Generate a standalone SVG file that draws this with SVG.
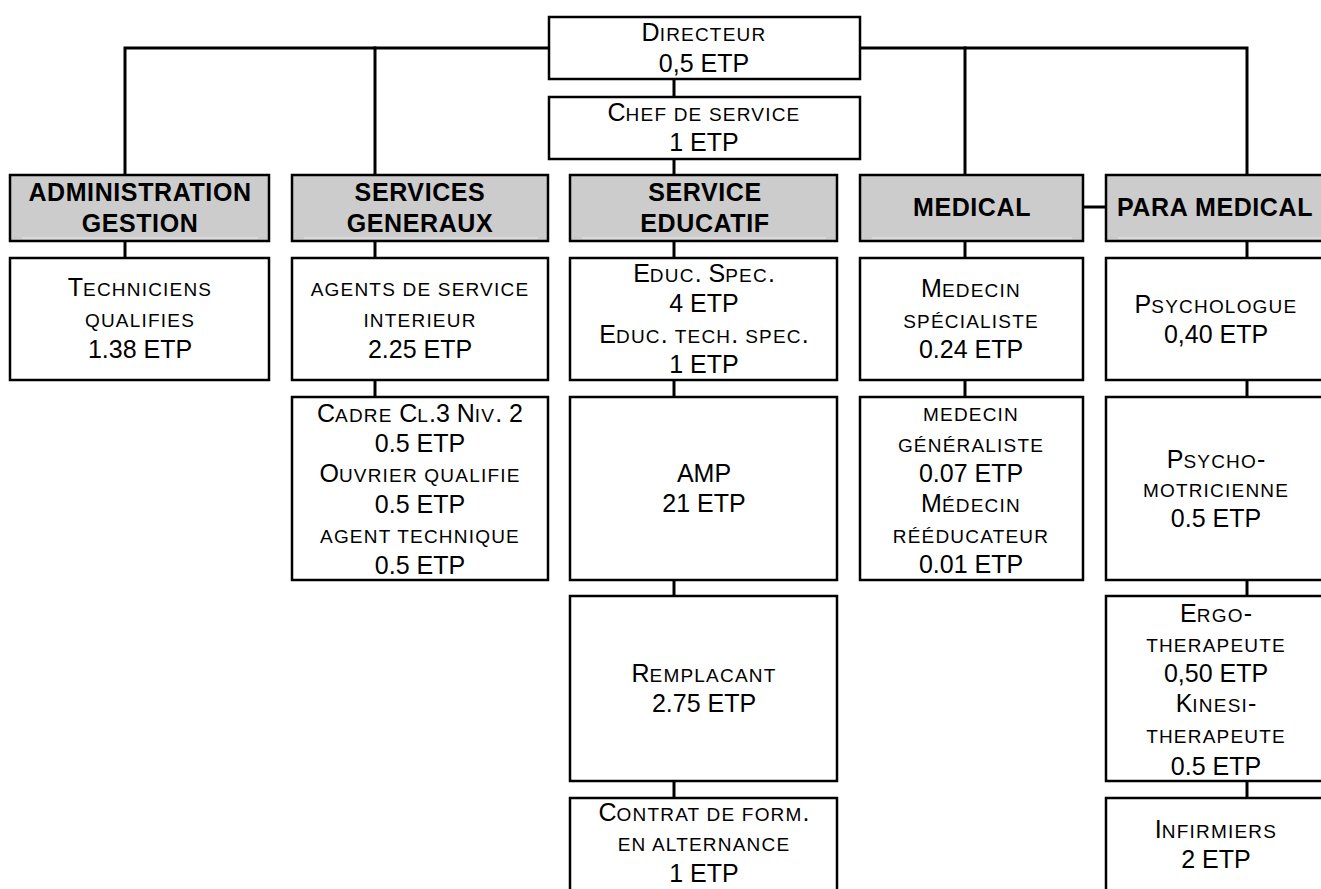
<svg xmlns="http://www.w3.org/2000/svg" width="1321" height="889" viewBox="0 0 1321 889">
<style>
  .box{fill:#ffffff;stroke:#000000;stroke-width:2.5}
  .hdr{fill:#cccccc;stroke:#000000;stroke-width:2.5}
  .hl{stroke:#e8e8e8;stroke-width:1.2}
  .con{fill:none;stroke:#000000;stroke-width:3;stroke-linecap:square}
  text{font-family:"Liberation Sans",Arial,sans-serif;font-size:25px;fill:#000000;text-anchor:middle}
  .b{font-weight:bold;letter-spacing:0.6px}
  .sc{font-size:19px;letter-spacing:1.2px}
</style>
<rect width="1321" height="889" fill="#ffffff"/>
<g id="connectors">
  <path class="con" d="M125,175 V48 H549"/>
  <path class="con" d="M375,48 V175"/>
  <path class="con" d="M860,48 H1247 V175"/>
  <path class="con" d="M965,48 V175"/>
  <path class="con" d="M674,79 V97"/>
  <path class="con" d="M674,159 V175"/>
  <path class="con" d="M1083,207 H1106"/>
  <path class="con" d="M125,241 V258"/>
  <path class="con" d="M375,241 V258"/>
  <path class="con" d="M674,241 V258"/>
  <path class="con" d="M965,241 V258"/>
  <path class="con" d="M1247,241 V258"/>
  <path class="con" d="M375,380 V397"/>
  <path class="con" d="M674,380 V397"/>
  <path class="con" d="M965,380 V397"/>
  <path class="con" d="M1247,380 V397"/>
  <path class="con" d="M674,580 V596"/>
  <path class="con" d="M1247,580 V596"/>
  <path class="con" d="M674,781 V798"/>
  <path class="con" d="M1247,781 V798"/>
</g>
<g id="directeur">
  <rect class="box" x="549" y="17" width="311" height="62"/>
  <text x="704" y="41">D<tspan class="sc">IRECTEUR</tspan></text>
  <text x="704" y="72">0,5 ETP</text>
</g>
<g id="chef">
  <rect class="box" x="549" y="97" width="311" height="62"/>
  <text x="704" y="121">C<tspan class="sc">HEF DE SERVICE</tspan></text>
  <text x="704" y="151">1 ETP</text>
</g>
<g id="h-admin">
  <rect class="hdr" x="10" y="175" width="259" height="66"/>
  <line class="hl" x1="22" y1="238" x2="258" y2="238"/>
  <text class="b" x="140" y="201">ADMINISTRATION</text>
  <text class="b" x="140" y="232">GESTION</text>
</g>
<g id="h-generaux">
  <rect class="hdr" x="292" y="175" width="256" height="66"/>
  <line class="hl" x1="304" y1="238" x2="538" y2="238"/>
  <text class="b" x="420" y="201">SERVICES</text>
  <text class="b" x="420" y="232">GENERAUX</text>
</g>
<g id="h-educatif">
  <rect class="hdr" x="570" y="175" width="267" height="66"/>
  <line class="hl" x1="582" y1="238" x2="826" y2="238"/>
  <text class="b" x="705" y="201">SERVICE</text>
  <text class="b" x="705" y="232">EDUCATIF</text>
</g>
<g id="h-medical">
  <rect class="hdr" x="860" y="175" width="223" height="66"/>
  <line class="hl" x1="872" y1="238" x2="1072" y2="238"/>
  <text class="b" x="972" y="216">MEDICAL</text>
</g>
<g id="h-paramedical">
  <rect class="hdr" x="1106" y="175" width="300" height="66"/>
  <line class="hl" x1="1118" y1="238" x2="1321" y2="238"/>
  <text class="b" x="1215" y="216">PARA MEDICAL</text>
</g>
<g id="techniciens">
  <rect class="box" x="10" y="258" width="259" height="122"/>
  <text x="140" y="296">T<tspan class="sc">ECHNICIENS</tspan></text>
  <text x="140" y="327"><tspan class="sc">QUALIFIES</tspan></text>
  <text x="140" y="358">1.38 ETP</text>
</g>
<g id="agents-service">
  <rect class="box" x="292" y="258" width="256" height="122"/>
  <text x="420" y="296"><tspan class="sc">AGENTS DE SERVICE</tspan></text>
  <text x="420" y="327"><tspan class="sc">INTERIEUR</tspan></text>
  <text x="420" y="358">2.25 ETP</text>
</g>
<g id="cadre">
  <rect class="box" x="292" y="397" width="256" height="183"/>
  <text x="420" y="422">C<tspan class="sc">ADRE </tspan>C<tspan class="sc">L</tspan>.3 N<tspan class="sc">IV</tspan>. 2</text>
  <text x="420" y="452">0.5 ETP</text>
  <text x="420" y="482">O<tspan class="sc">UVRIER QUALIFIE</tspan></text>
  <text x="420" y="513">0.5 ETP</text>
  <text x="420" y="543"><tspan class="sc">AGENT TECHNIQUE</tspan></text>
  <text x="420" y="574">0.5 ETP</text>
</g>
<g id="educ">
  <rect class="box" x="570" y="258" width="267" height="122"/>
  <text x="704" y="282">E<tspan class="sc">DUC</tspan>. S<tspan class="sc">PEC</tspan>.</text>
  <text x="704" y="312">4 ETP</text>
  <text x="704" y="343">E<tspan class="sc">DUC</tspan>. <tspan class="sc">TECH</tspan>. <tspan class="sc">SPEC</tspan>.</text>
  <text x="704" y="373">1 ETP</text>
</g>
<g id="amp">
  <rect class="box" x="570" y="397" width="267" height="183"/>
  <text x="704" y="482">AMP</text>
  <text x="704" y="512">21 ETP</text>
</g>
<g id="remplacant">
  <rect class="box" x="570" y="596" width="267" height="185"/>
  <text x="704" y="682">R<tspan class="sc">EMPLACANT</tspan></text>
  <text x="704" y="712">2.75 ETP</text>
</g>
<g id="contrat">
  <rect class="box" x="570" y="798" width="267" height="200"/>
  <text x="704" y="821">C<tspan class="sc">ONTRAT DE FORM</tspan>.</text>
  <text x="704" y="851"><tspan class="sc">EN ALTERNANCE</tspan></text>
  <text x="704" y="882">1 ETP</text>
</g>
<g id="medecin-specialiste">
  <rect class="box" x="860" y="258" width="223" height="122"/>
  <text x="971" y="297">M<tspan class="sc">EDECIN</tspan></text>
  <text x="971" y="328"><tspan class="sc">SPÉCIALISTE</tspan></text>
  <text x="971" y="358">0.24 ETP</text>
</g>
<g id="medecin-generaliste">
  <rect class="box" x="860" y="397" width="223" height="183"/>
  <text x="971" y="421"><tspan class="sc">MEDECIN</tspan></text>
  <text x="971" y="452"><tspan class="sc">GÉNÉRALISTE</tspan></text>
  <text x="971" y="482">0.07 ETP</text>
  <text x="971" y="512">M<tspan class="sc">ÉDECIN</tspan></text>
  <text x="971" y="543"><tspan class="sc">RÉÉDUCATEUR</tspan></text>
  <text x="971" y="573">0.01 ETP</text>
</g>
<g id="psychologue">
  <rect class="box" x="1106" y="258" width="300" height="122"/>
  <text x="1216" y="313">P<tspan class="sc">SYCHOLOGUE</tspan></text>
  <text x="1216" y="343">0,40 ETP</text>
</g>
<g id="psychomotricienne">
  <rect class="box" x="1106" y="397" width="300" height="183"/>
  <text x="1216" y="468">P<tspan class="sc">SYCHO</tspan>-</text>
  <text x="1216" y="497"><tspan class="sc">MOTRICIENNE</tspan></text>
  <text x="1216" y="527">0.5 ETP</text>
</g>
<g id="ergo-kinesi">
  <rect class="box" x="1106" y="596" width="300" height="185"/>
  <text x="1216" y="622">E<tspan class="sc">RGO</tspan>-</text>
  <text x="1216" y="652"><tspan class="sc">THERAPEUTE</tspan></text>
  <text x="1216" y="682">0,50 ETP</text>
  <text x="1216" y="712">K<tspan class="sc">INESI</tspan>-</text>
  <text x="1216" y="743"><tspan class="sc">THERAPEUTE</tspan></text>
  <text x="1216" y="775">0.5 ETP</text>
</g>
<g id="infirmiers">
  <rect class="box" x="1106" y="798" width="300" height="200"/>
  <text x="1216" y="838">I<tspan class="sc">NFIRMIERS</tspan></text>
  <text x="1216" y="868">2 ETP</text>
</g>
</svg>
